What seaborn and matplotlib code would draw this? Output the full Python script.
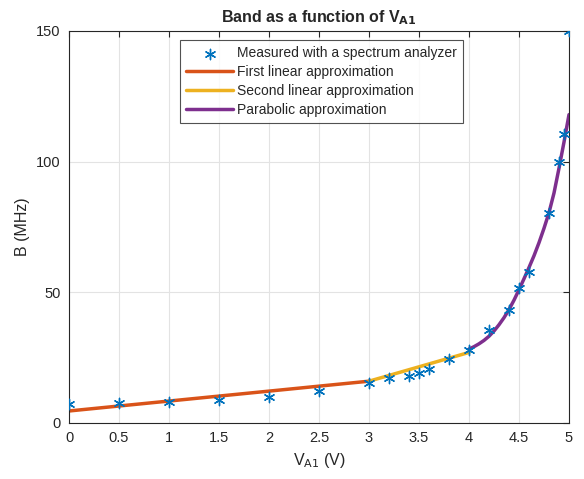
import seaborn as sns
import matplotlib.pyplot as plt
import pandas as pd

# measured points
v_meas = [0, 0.5, 1, 1.5, 2, 2.5, 3, 3.2, 3.4, 3.5, 3.6, 3.8, 4, 4.2, 4.4, 4.5, 4.6, 4.8, 4.9, 4.95, 5]
b_meas = [7.3, 7.6, 8.0, 8.8, 10.0, 12.4, 15.3, 17.3, 18.0, 19.2, 20.5, 24.4, 27.9, 35.6, 43.2, 51.5, 57.9, 80.2, 100.0, 110.5, 150.0]

# first linear approximation
v_lin1 = [0, 3]
b_lin1 = [4.6, 16.0]

# second linear approximation
v_lin2 = [3, 4]
b_lin2 = [16.0, 27.0]

# parabolic approximation
v_par = [4.0, 4.05, 4.1, 4.15, 4.2, 4.25, 4.3, 4.35, 4.4, 4.45, 4.5, 4.55, 4.6, 4.65, 4.7, 4.75, 4.8, 4.85, 4.9, 4.95, 5.0]
b_par = [28.3, 29.2, 30.3, 31.6, 33.2, 35.2, 37.6, 40.3, 43.4, 47.0, 51.0, 55.2, 59.5, 64.0, 69.0, 74.5, 80.5, 88.0, 97.5, 107.5, 118.0]

sns.set_style("whitegrid")
plt.rcParams['font.family'] = ['Liberation Sans', 'DejaVu Sans']

fig = plt.figure(figsize=(5.84, 4.79), dpi=100)
ax = fig.add_axes([69 / 584, 56 / 479, 500 / 584, 392 / 479])

df_meas = pd.DataFrame({"V": v_meas, "B": b_meas})
sns.scatterplot(x="V", y="B", data=df_meas, ax=ax, marker=(6, 2, 0), s=55, color="#0072BD",
                edgecolor="#0072BD", linewidth=1.0, label="Measured with a spectrum analyzer", zorder=3)
sns.lineplot(x=v_lin1, y=b_lin1, ax=ax, color="#D95319", linewidth=2.5, label="First linear approximation", zorder=2)
sns.lineplot(x=v_lin2, y=b_lin2, ax=ax, color="#EDB120", linewidth=2.5, label="Second linear approximation", zorder=2)
sns.lineplot(x=v_par, y=b_par, ax=ax, color="#7E2F8E", linewidth=2.5, label="Parabolic approximation", zorder=2)

ax.set_xlim(0, 5)
ax.set_ylim(0, 150)
ax.set_xticks([0, 0.5, 1, 1.5, 2, 2.5, 3, 3.5, 4, 4.5, 5])
ax.set_xticklabels(["0", "0.5", "1", "1.5", "2", "2.5", "3", "3.5", "4", "4.5", "5"])
ax.set_yticks([0, 50, 100, 150])
ax.grid(True, color="#e3e3e3", linewidth=0.8)
for s in ax.spines.values():
    s.set_color("#262626")
    s.set_linewidth(0.8)
ax.tick_params(direction="in", top=True, right=True, length=4, width=0.8,
               labelsize=10.5, colors="#262626", pad=6)

ax.set_title("Band as a function of V$_{\\mathbf{A1}}$", fontsize=11.5, fontweight="bold", pad=6)
ax.set_xlabel("V$_{\\mathrm{A1}}$ (V)", fontsize=11.5, color="#262626")
ax.set_ylabel("B (MHz)", fontsize=11.5, color="#262626")

leg = ax.legend(loc="upper left", bbox_to_anchor=(0.222, 0.977), fontsize=10, frameon=True,
                fancybox=False, edgecolor="#262626", handlelength=3.4, borderpad=0.45,
                labelspacing=0.35, handletextpad=0.25, borderaxespad=0)
leg.get_frame().set_linewidth(0.8)

plt.savefig("out.png", dpi=100)
